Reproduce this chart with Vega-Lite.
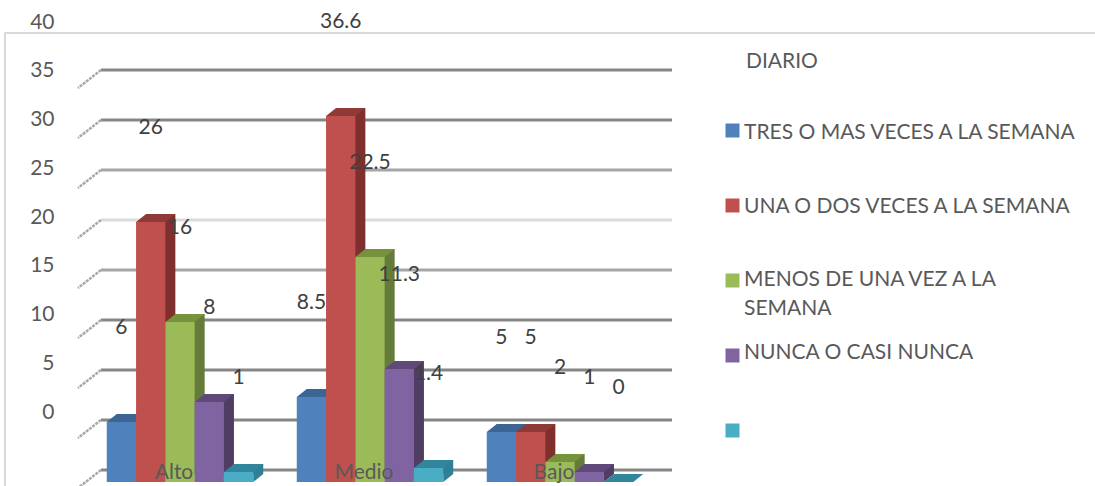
{
  "$schema": "https://vega.github.io/schema/vega-lite/v6.json",
  "width": 1095,
  "height": 486,
  "padding": 0,
  "autosize": "none",
  "background": "white",
  "view": {"stroke": null},
  "config": {"font": "Lato", "text": {"font": "Lato"}},
  "datasets": {
    "bars": [
      {"nivel": "Alto", "serie": "TRES O MAS VECES A LA SEMANA", "valor": 6},
      {"nivel": "Alto", "serie": "UNA O DOS VECES A LA SEMANA", "valor": 26},
      {"nivel": "Alto", "serie": "MENOS DE UNA VEZ A LA SEMANA", "valor": 16},
      {"nivel": "Alto", "serie": "NUNCA O CASI NUNCA", "valor": 8},
      {"nivel": "Alto", "serie": " ", "valor": 1},
      {"nivel": "Medio", "serie": "TRES O MAS VECES A LA SEMANA", "valor": 8.5},
      {"nivel": "Medio", "serie": "UNA O DOS VECES A LA SEMANA", "valor": 36.6},
      {"nivel": "Medio", "serie": "MENOS DE UNA VEZ A LA SEMANA", "valor": 22.5},
      {"nivel": "Medio", "serie": "NUNCA O CASI NUNCA", "valor": 11.3},
      {"nivel": "Medio", "serie": " ", "valor": 1.4},
      {"nivel": "Bajo", "serie": "TRES O MAS VECES A LA SEMANA", "valor": 5},
      {"nivel": "Bajo", "serie": "UNA O DOS VECES A LA SEMANA", "valor": 5},
      {"nivel": "Bajo", "serie": "MENOS DE UNA VEZ A LA SEMANA", "valor": 2},
      {"nivel": "Bajo", "serie": "NUNCA O CASI NUNCA", "valor": 1},
      {"nivel": "Bajo", "serie": " ", "valor": 0}
    ],
    "ticks": [{"v": 0}, {"v": 5}, {"v": 10}, {"v": 15}, {"v": 20}, {"v": 25}, {"v": 30}, {"v": 35}, {"v": 40}]
  },
  "data": {"name": "bars"},
  "layer": [
    {
      "description": "outer frame",
      "mark": {"type": "rect", "fill": null, "stroke": "#d9d9d9", "strokeWidth": 2},
      "encoding": {
        "x": {"datum": 0, "type": "quantitative", "scale": {"domain": [0, 1], "range": [5, 1110]}, "axis": null},
        "x2": {"datum": 1},
        "y": {"datum": 0, "type": "quantitative", "scale": {"domain": [0, 1], "range": [510, 33]}, "axis": null},
        "y2": {"datum": 1}
      }
    },
    {
      "description": "value-axis labels, set apart from the back wall",
      "data": {"name": "ticks"},
      "mark": {"type": "rule", "opacity": 0},
      "encoding": {
        "y": {
          "field": "v", "type": "quantitative",
          "scale": {"domain": [0, 40], "range": [412, 22]},
          "axis": {"title": null, "values": [0, 5, 10, 15, 20, 25, 30, 35, 40], "domain": false, "ticks": false, "grid": false, "offset": -54, "labelPadding": 0, "labelAlign": "right", "labelFontSize": 21, "labelColor": "#595959", "labelFlush": false, "labelOverlap": false, "labelFont": "Lato"}
        }
      }
    },
    {
      "description": "back wall gridlines",
      "data": {"name": "ticks"},
      "mark": {"type": "rule", "strokeWidth": 3},
      "encoding": {
        "x": {"datum": 0, "type": "quantitative", "scale": {"domain": [0, 1], "range": [101, 672]}, "axis": null},
        "x2": {"datum": 1},
        "y": {"field": "v", "type": "quantitative", "scale": {"domain": [0, 40], "range": [470, 70]}, "axis": null},
        "color": {
          "condition": [
            {"test": "datum.v === 25", "value": "#dcdcdc"},
            {"test": "datum.v === 30 || datum.v === 20", "value": "#a6a6a6"}
          ],
          "value": "#868686"
        }
      }
    },
    {
      "description": "side wall stubs running forward from each gridline",
      "data": {"name": "ticks"},
      "mark": {"type": "point", "shape": "M0,0L-23,18", "size": 4, "filled": false, "stroke": "#a8a8a8", "strokeWidth": 2.5, "strokeDash": [3, 1], "opacity": 1},
      "encoding": {
        "x": {"datum": 0, "type": "quantitative", "scale": {"domain": [0, 1], "range": [101, 672]}, "axis": null},
        "y": {"field": "v", "type": "quantitative", "scale": {"domain": [0, 40], "range": [470, 70]}, "axis": null}
      }
    },
    {
      "description": "bar side faces: the bar body drawn on scales pushed back by the depth",
      "mark": {"type": "bar"},
      "encoding": {
        "x": {"field": "nivel", "type": "nominal", "sort": ["Alto", "Medio", "Bajo"], "scale": {"type": "band", "range": [95, 665], "paddingInner": 0.229, "paddingOuter": 0.1145}, "axis": null},
        "xOffset": {"field": "serie", "type": "nominal", "scale": {"type": "band", "domain": ["TRES O MAS VECES A LA SEMANA", "UNA O DOS VECES A LA SEMANA", "MENOS DE UNA VEZ A LA SEMANA", "NUNCA O CASI NUNCA", " "], "paddingInner": 0, "paddingOuter": 0}},
        "y": {"field": "valor", "type": "quantitative", "scale": {"domain": [0, 48.2], "range": [474, -8], "nice": false}, "axis": null},
        "color": {"field": "serie", "type": "nominal", "legend": null, "scale": {"domain": ["TRES O MAS VECES A LA SEMANA", "UNA O DOS VECES A LA SEMANA", "MENOS DE UNA VEZ A LA SEMANA", "NUNCA O CASI NUNCA", " "], "range": ["#385d8a", "#7f2f2d", "#657b39", "#4f3d64", "#2f7f96"]}}
      }
    },
    {
      "description": "lower corner of each side face",
      "transform": [{"filter": "datum.valor > 0"}],
      "mark": {"type": "point", "shape": "M14.65,0L14.65,-8L24.65,-8Z", "size": 4, "filled": true, "strokeWidth": 0, "opacity": 1},
      "encoding": {
        "x": {"field": "nivel", "type": "nominal", "sort": ["Alto", "Medio", "Bajo"], "scale": {"type": "band", "range": [85, 655], "paddingInner": 0.229, "paddingOuter": 0.1145}, "axis": null},
        "xOffset": {"field": "serie", "type": "nominal", "scale": {"type": "band", "domain": ["TRES O MAS VECES A LA SEMANA", "UNA O DOS VECES A LA SEMANA", "MENOS DE UNA VEZ A LA SEMANA", "NUNCA O CASI NUNCA", " "], "paddingInner": 0, "paddingOuter": 0}},
        "y": {"datum": 0, "type": "quantitative", "scale": {"domain": [0, 48.2], "range": [482, 0], "nice": false}, "axis": null},
        "color": {"field": "serie", "type": "nominal", "legend": null, "scale": {"domain": ["TRES O MAS VECES A LA SEMANA", "UNA O DOS VECES A LA SEMANA", "MENOS DE UNA VEZ A LA SEMANA", "NUNCA O CASI NUNCA", " "], "range": ["#385d8a", "#7f2f2d", "#657b39", "#4f3d64", "#2f7f96"]}}
      }
    },
    {
      "description": "bar top faces",
      "mark": {"type": "point", "shape": "M-14.65,0L14.65,0L24.65,-8L-4.65,-8Z", "size": 4, "filled": true, "strokeWidth": 0, "opacity": 1},
      "encoding": {
        "x": {"field": "nivel", "type": "nominal", "sort": ["Alto", "Medio", "Bajo"], "scale": {"type": "band", "range": [85, 655], "paddingInner": 0.229, "paddingOuter": 0.1145}, "axis": null},
        "xOffset": {"field": "serie", "type": "nominal", "scale": {"type": "band", "domain": ["TRES O MAS VECES A LA SEMANA", "UNA O DOS VECES A LA SEMANA", "MENOS DE UNA VEZ A LA SEMANA", "NUNCA O CASI NUNCA", " "], "paddingInner": 0, "paddingOuter": 0}},
        "y": {"field": "valor", "type": "quantitative", "scale": {"domain": [0, 48.2], "range": [482, 0], "nice": false}, "axis": null},
        "color": {"field": "serie", "type": "nominal", "legend": null, "scale": {"domain": ["TRES O MAS VECES A LA SEMANA", "UNA O DOS VECES A LA SEMANA", "MENOS DE UNA VEZ A LA SEMANA", "NUNCA O CASI NUNCA", " "], "range": ["#3a6594", "#8f3a37", "#76923c", "#5f497a", "#31859c"]}}
      }
    },
    {
      "description": "bar front faces, carrying the legend and category labels",
      "mark": {"type": "bar"},
      "encoding": {
        "x": {
          "field": "nivel", "type": "nominal", "sort": ["Alto", "Medio", "Bajo"],
          "scale": {"type": "band", "range": [85, 655], "paddingInner": 0.229, "paddingOuter": 0.1145},
          "axis": {"title": null, "domain": false, "ticks": false, "grid": false, "labelAngle": 0, "labelFontSize": 21, "labelColor": "#595959", "labelBaseline": "middle", "labelPadding": -14, "labelOffset": -6, "zindex": 2, "labelFont": "Lato"}
        },
        "xOffset": {"field": "serie", "type": "nominal", "scale": {"type": "band", "domain": ["TRES O MAS VECES A LA SEMANA", "UNA O DOS VECES A LA SEMANA", "MENOS DE UNA VEZ A LA SEMANA", "NUNCA O CASI NUNCA", " "], "paddingInner": 0, "paddingOuter": 0}},
        "y": {"field": "valor", "type": "quantitative", "scale": {"domain": [0, 48.2], "range": [482, 0], "nice": false}, "axis": null},
        "color": {
          "field": "serie", "type": "nominal",
          "scale": {"domain": ["TRES O MAS VECES A LA SEMANA", "UNA O DOS VECES A LA SEMANA", "MENOS DE UNA VEZ A LA SEMANA", "NUNCA O CASI NUNCA", " "], "range": ["#4f81bd", "#c0504d", "#9bbb59", "#8064a2", "#4bacc6"]},
          "legend": {
            "title": "DIARIO",
            "orient": "none",
            "legendX": 746,
            "legendY": 51,
            "symbolType": "square",
            "symbolSize": 196,
            "symbolStrokeWidth": 0,
            "symbolOffset": -24,
            "labelOffset": 1,
            "labelFontSize": 21,
            "labelColor": "#595959",
            "labelFont": "Lato",
            "labelLimit": 400,
            "titleFontSize": 21,
            "titleFont": "Lato",
            "titleFontWeight": "normal",
            "titleColor": "#595959",
            "titlePadding": 48,
            "rowPadding": 22,
            "gridAlign": "all",
            "labelExpr": "datum.label === 'MENOS DE UNA VEZ A LA SEMANA' ? ['MENOS DE UNA VEZ A LA', 'SEMANA'] : datum.label",
            "encode": {"labels": {"update": {
              "lineHeight": {"value": 29},
              "dy": {"signal": "datum.value === 'TRES O MAS VECES A LA SEMANA' ? 2 : datum.value === 'UNA O DOS VECES A LA SEMANA' ? 1 : datum.value === 'NUNCA O CASI NUNCA' ? -3 : -1"}
            }}}
          }
        }
      }
    },
    {
      "description": "data labels floating above each bar",
      "mark": {"type": "text", "dy": -94, "fontSize": 21, "color": "#404040", "baseline": "middle", "font": "Lato"},
      "encoding": {
        "x": {"field": "nivel", "type": "nominal", "sort": ["Alto", "Medio", "Bajo"], "scale": {"type": "band", "range": [85, 655], "paddingInner": 0.229, "paddingOuter": 0.1145}, "axis": null},
        "xOffset": {"field": "serie", "type": "nominal", "scale": {"type": "band", "domain": ["TRES O MAS VECES A LA SEMANA", "UNA O DOS VECES A LA SEMANA", "MENOS DE UNA VEZ A LA SEMANA", "NUNCA O CASI NUNCA", " "], "paddingInner": 0, "paddingOuter": 0}},
        "y": {"field": "valor", "type": "quantitative", "scale": {"domain": [0, 48.2], "range": [482, 0], "nice": false}, "axis": null},
        "text": {"field": "valor", "type": "nominal"}
      }
    }
  ],
  "resolve": {
    "scale": {"x": "independent", "y": "independent", "color": "independent", "xOffset": "independent"},
    "axis": {"x": "independent", "y": "independent"}
  }
}
